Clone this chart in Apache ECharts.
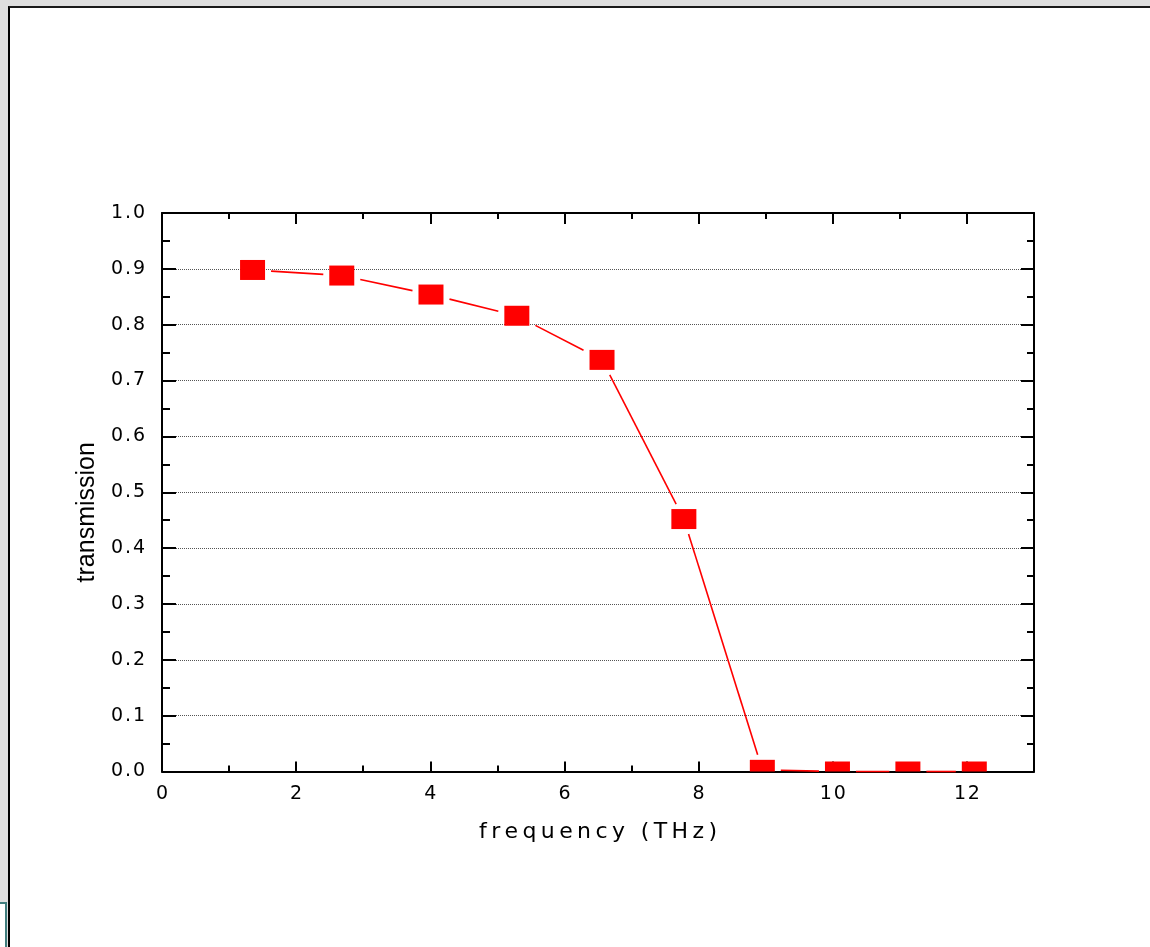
<!DOCTYPE html>
<html>
<head>
<meta charset="utf-8">
<script src="https://cdn.jsdelivr.net/npm/echarts@6/dist/echarts.min.js"></script>
<style>
  html, body { margin:0; padding:0; width:1150px; height:947px; overflow:hidden; background:#dedede; }
  #panel { position:absolute; left:8px; top:6px; right:0; bottom:0; background:#fff;
           border-top:2px solid #1a1a1a; border-left:2px solid #000; }
  #corner { position:absolute; left:0; top:902px; width:5px; height:45px; background:#fff;
            border-top:2px solid #3f7d7d; border-right:2px solid #3f7d7d; }
  #chart { position:absolute; left:0; top:0; width:1150px; height:947px; }
</style>
</head>
<body>
<div id="panel"></div>
<div id="corner"></div>
<div id="chart"></div>
<script>
// ---- data ----
const frequency    = [1.35, 2.68, 4.01, 5.29, 6.56, 7.78, 8.95, 10.07, 11.12, 12.11];
const transmission = [0.898, 0.888, 0.854, 0.816, 0.737, 0.452, 0.003, 0.0, 0.0, 0.0];
const xTickLabels  = ['0', '2', '4', '6', '8', '10', '12'];
const yTickLabels  = ['0.0','0.1','0.2','0.3','0.4','0.5','0.6','0.7','0.8','0.9','1.0'];
const xName = 'frequency (THz)';
const yName = 'transmission';

const FONT = "'Liberation Sans', Arial, sans-serif";
const WIDEFONT = "'DejaVu Sans', 'Liberation Sans', Arial, sans-serif";
const spaced = s => s.split('').join('\u2009');
const hair = s => s.split('').join('\u200A');

const chart = echarts.init(document.getElementById('chart'), null, { renderer: 'canvas' });

const axisLine = { show: true, onZero: false, lineStyle: { color: '#000', width: 2 } };
const tickStyle = { color: '#000', width: 2 };

const xLabelFmt = v => {
  const i = Math.round(v / 2);
  return (Math.abs(v - i * 2) < 1e-6 && xTickLabels[i] !== undefined) ? hair(xTickLabels[i]) : '';
};
const yLabelFmt = v => {
  const i = Math.round(v * 10);
  return yTickLabels[i] !== undefined ? hair(yTickLabels[i]) : '';
};

const MW = 25, MH = 20, GAPX = 6, GAPY = 5;

const option = {
  backgroundColor: 'transparent',
  animation: false,
  grid: { left: 162, top: 213, right: 116, bottom: 175.5, containLabel: false, outerBoundsMode: 'none' },
  xAxis: [
    { type: 'value', position: 'bottom', min: 0, max: 13, interval: 2,
      axisLine: axisLine,
      axisTick: { show: true, inside: true, length: 10, lineStyle: tickStyle },
      axisLabel: { show: true, formatter: xLabelFmt, fontSize: 19, color: '#000', fontFamily: WIDEFONT, margin: 13 },
      splitLine: { show: false },
      name: spaced(xName), nameLocation: 'middle', nameGap: 50,
      nameTextStyle: { fontSize: 22, color: '#000', fontFamily: WIDEFONT } },
    { type: 'value', position: 'bottom', min: 0, max: 13, interval: 1,
      axisLine: { show: false, onZero: false },
      axisTick: { show: true, inside: true, length: 6, lineStyle: tickStyle },
      axisLabel: { show: false }, splitLine: { show: false } },
    { type: 'value', position: 'top', min: 0, max: 13, interval: 2,
      axisLine: axisLine,
      axisTick: { show: true, inside: true, length: 11, lineStyle: tickStyle },
      axisLabel: { show: false }, splitLine: { show: false } },
    { type: 'value', position: 'top', min: 0, max: 13, interval: 1,
      axisLine: { show: false, onZero: false },
      axisTick: { show: true, inside: true, length: 6, lineStyle: tickStyle },
      axisLabel: { show: false }, splitLine: { show: false } }
  ],
  yAxis: [
    { type: 'value', position: 'left', min: 0, max: 1, interval: 0.1,
      axisLine: axisLine,
      axisTick: { show: true, inside: true, length: 14, lineStyle: tickStyle },
      minorTick: { show: true, splitNumber: 2, length: 8, lineStyle: tickStyle },
      axisLabel: { show: true, formatter: yLabelFmt, fontSize: 19, color: '#000', fontFamily: WIDEFONT, margin: 17 },
      splitLine: { show: true, lineStyle: { color: '#555', width: 1, type: [1, 1] } },
      name: yName, nameLocation: 'middle', nameGap: 62,
      nameTextStyle: { fontSize: 25, color: '#000', fontFamily: FONT, padding: [0, 40, 0, 0] } },
    { type: 'value', position: 'right', min: 0, max: 1, interval: 0.1,
      axisLine: axisLine,
      axisTick: { show: true, inside: true, length: 13, lineStyle: tickStyle },
      minorTick: { show: true, splitNumber: 2, length: 7, lineStyle: tickStyle },
      axisLabel: { show: false }, splitLine: { show: false } }
  ],
  series: [{
    type: 'custom',
    xAxisIndex: 0, yAxisIndex: 0,
    clip: false,
    z: 5,
    data: frequency.map((f, i) => [f, transmission[i]]),
    renderItem: function (params, api) {
      const i = params.dataIndex;
      const p = api.coord([api.value(0), api.value(1)]);
      const cs = params.coordSys;
      const children = [];
      if (i < frequency.length - 1) {
        const q = api.coord([frequency[i + 1], transmission[i + 1]]);
        const dx = q[0] - p[0], dy = q[1] - p[1];
        const len = Math.hypot(dx, dy);
        const ux = dx / len, uy = dy / len;
        const t = Math.min((MW / 2 + GAPX) / Math.max(Math.abs(ux), 1e-9),
                           (MH / 2 + GAPY) / Math.max(Math.abs(uy), 1e-9));
        if (len > 2 * t) {
          children.push({ type: 'line',
            shape: { x1: p[0] + ux * t, y1: p[1] + uy * t, x2: q[0] - ux * t, y2: q[1] - uy * t },
            style: { stroke: '#ff0000', lineWidth: 1.6 } });
        }
      }
      const rect = echarts.graphic.clipRectByRect(
        { x: p[0] - MW / 2, y: p[1] - MH / 2, width: MW, height: MH },
        { x: cs.x, y: cs.y, width: cs.width, height: cs.height });
      if (rect) {
        children.push({ type: 'rect', shape: rect, style: { fill: '#ff0000' } });
      }
      return { type: 'group', children: children };
    }
  }]
};
chart.setOption(option);
</script>
</body>
</html>
